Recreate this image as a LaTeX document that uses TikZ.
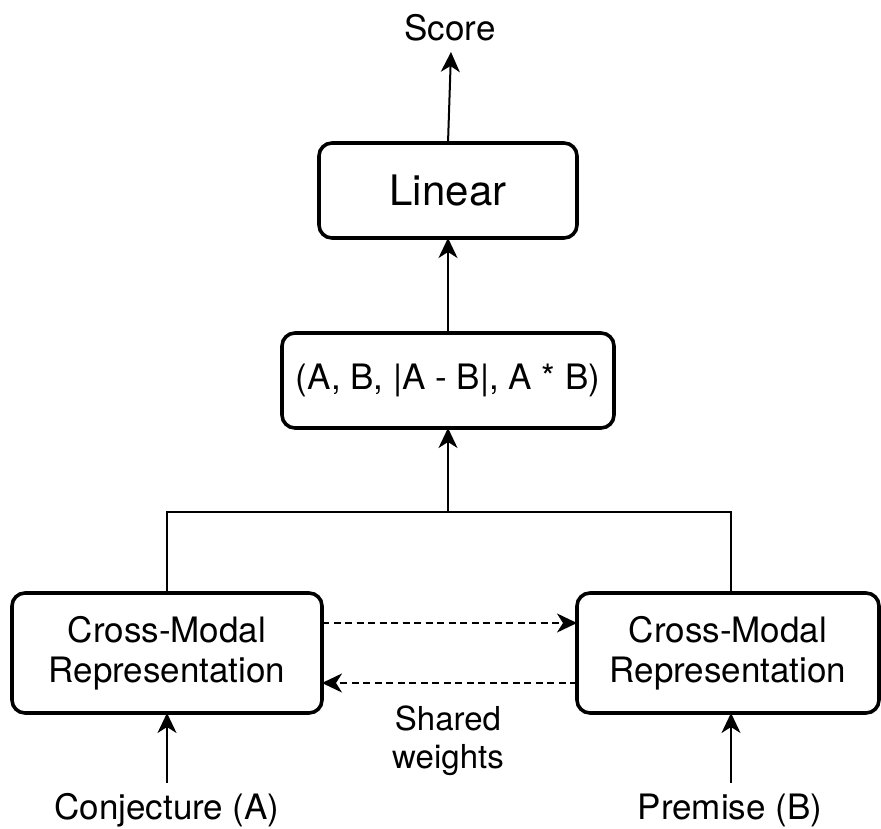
\documentclass[tikz,border=0pt]{standalone}
\usepackage{fontspec}
\setmainfont{TeX Gyre Heros}
\usetikzlibrary{arrows.meta}
\begin{document}
\begin{tikzpicture}[x=1pt,y=-1pt,
  block/.style={draw, line width=3.6pt, rounded corners=13pt, inner sep=0pt, outer sep=0pt,
                align=center, font=\fontsize{35}{40}\selectfont},
  label/.style={inner sep=0pt, align=center, font=\fontsize{35}{40}\selectfont},
  conn/.style={line width=2pt, -{Stealth[length=20pt,width=19pt,inset=6pt]}},
  weightlink/.style={conn, dash pattern=on 7pt off 4.5pt}]
\useasboundingbox (0,0) rectangle (881,829);

% processing blocks
\node[block, minimum width=258pt, minimum height=95pt, font=\fontsize{42}{48}\selectfont]
  (lin) at (448,190.5) {Linear};
\node[block, minimum width=332pt, minimum height=95pt]
  (feat) at (448,380.5) {(A, B, |A - B|, A * B)};
\node[block, minimum width=310pt, minimum height=120pt]
  (repA) at (167,653) {Cross-Modal\\Representation};
\node[block, minimum width=302pt, minimum height=120pt]
  (repB) at (728,653) {Cross-Modal\\Representation};

% plain labels
\node[label] (score) at (450,28) {Score};
\node[label] (conj) at (167,810) {Conjecture (A)};
\node[label] (prem) at (730,810) {Premise (B)};
\node[label, font=\fontsize{33}{38}\selectfont] (shared) at (448,741) {Shared\\weights};

% free ends of connectors
\coordinate (scoreTip) at (451,52);
\coordinate (join) at (448,512);
\coordinate (inA) at (167,783);
\coordinate (inB) at (731,783);
\coordinate (repAtop) at (167,593);
\coordinate (repBtop) at (731,593);

% connectors
\draw[conn] (lin.north) -- (scoreTip);
\draw[conn] (feat.north) -- (lin.south);
\draw[conn] (join) -- (feat.south);
\draw[line width=2pt] (repAtop) |- (join) -| (repBtop);
\draw[conn] (inA) -- (repA.south);
\draw[conn] (inB) -- (repB.south -| inB);

% shared weights
\draw[weightlink] (repA.east |- 0,623) -- (repB.west |- 0,623);
\draw[weightlink] (repB.west |- 0,683) -- (repA.east |- 0,683);
\end{tikzpicture}
\end{document}
